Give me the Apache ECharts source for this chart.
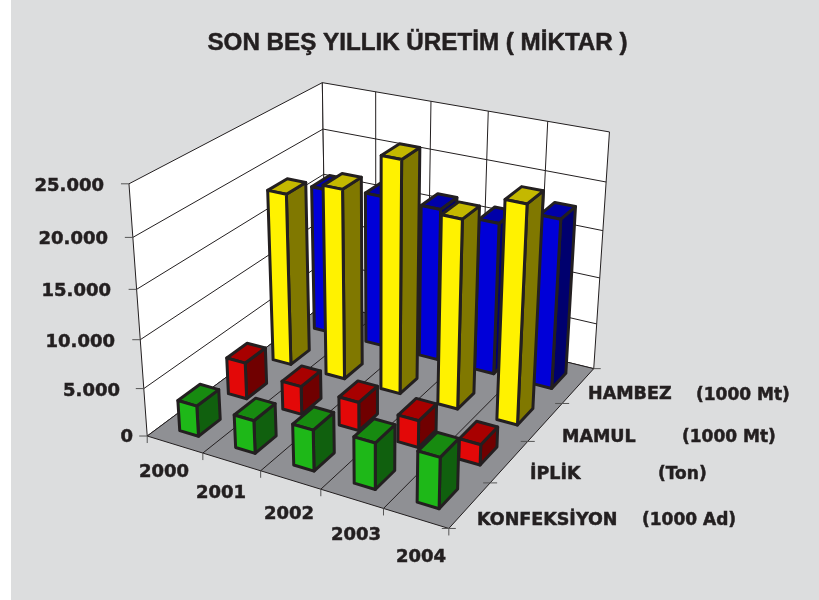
<!DOCTYPE html>
<html><head><meta charset="utf-8">
<style>html,body{margin:0;padding:0;background:#fff}#c{width:819px;height:600px}</style>
<script src="https://cdn.jsdelivr.net/npm/echarts@6/dist/echarts.min.js"></script>
</head><body><div id="c"></div>
<script>
var years = ['2000','2001','2002','2003','2004'];
var tickLabels = ['0','5.000','10.000','15.000','20.000','25.000'];
var seriesNames = ['KONFEKSİYON','İPLİK','MAMUL','HAMBEZ'];
var seriesUnits = ['(1000 Ad)','(Ton)','(1000 Mt)','(1000 Mt)'];
var konfeksiyon = [3200, 3400, 4200, 4700, 5100];
var iplik = [3900, 3000, 3000, 2800, 2100];
var mamul = [18400, 20100, 24200, 19600, 22300];
var hambez = [16000, 16500, 16400, 16200, 17900];
var valueMax = 25000, valueStep = 5000;

var calib = [
  [0,0,0,147.7,436],[1,0,0,449,528.3],[1,1,0,594,369],[0,1,0,325,303],
  [0,0,1,128.3,184],[0,1,1,323.3,82.7],[1,1,1,609,131.7]
];
function solve(A,b){var n=b.length,i,j,k;for(i=0;i<n;i++){var p=i;for(j=i+1;j<n;j++)if(Math.abs(A[j][i])>Math.abs(A[p][i]))p=j;
  var t=A[i];A[i]=A[p];A[p]=t;t=b[i];b[i]=b[p];b[p]=t;
  for(j=i+1;j<n;j++){var f=A[j][i]/A[i][i];for(k=i;k<n;k++)A[j][k]-=f*A[i][k];b[j]-=f*b[i];}}
  var x=[];for(i=n-1;i>=0;i--){var s=b[i];for(k=i+1;k<n;k++)s-=A[i][k]*x[k];x[i]=s/A[i][i];}return x;}
var M=(function(){var R=[],r=[];calib.forEach(function(c){var u=c[0],v=c[1],w=c[2],x=c[3]/500,y=c[4]/500;
  R.push([u,v,w,1,0,0,0,0,-x*u,-x*v,-x*w]);r.push(x);R.push([0,0,0,0,u,v,w,1,-y*u,-y*v,-y*w]);r.push(y);});
  var A=[],b=[];for(var i=0;i<11;i++){A[i]=[];b[i]=0;for(var j=0;j<11;j++){var s=0;for(var k=0;k<R.length;k++)s+=R[k][i]*R[k][j];A[i][j]=s;}
  for(var k2=0;k2<R.length;k2++)b[i]+=R[k2][i]*r[k2];}return solve(A,b);})();
function P(u,v,w){var d=M[8]*u+M[9]*v+M[10]*w+1;return [500*(M[0]*u+M[1]*v+M[2]*w+M[3])/d,500*(M[4]*u+M[5]*v+M[6]*w+M[7])/d];}

var INK='#231f20';
var palette=[
 {front:'#1eb818',top:'#178a10',side:'#10600e'},
 {front:'#e30808',top:'#a80000',side:'#700000'},
 {front:'#fff200',top:'#c4b800',side:'#807800'},
 {front:'#0000d8',top:'#0000a8',side:'#00006e'}
];
var barFrac=0.34, depthFrac=0.44;
function poly(pts,fill){return {type:'polygon',shape:{points:pts},style:{fill:fill,stroke:INK,lineWidth:3,lineJoin:'round'}};}
function line(a,b,w,c){return {type:'line',shape:{x1:a[0],y1:a[1],x2:b[0],y2:b[1]},style:{stroke:c||INK,lineWidth:w||1,fill:null}};}
function txt(x,y,s,font,align){return {type:'text',x:x,y:y+1.5,style:{text:s,font:font,fill:INK,textAlign:align||'left',textVerticalAlign:'middle',stroke:INK,lineWidth:0.5}};}

function barSeries(name,idx,data){
  return {type:'custom',name:name,coordinateSystem:'cartesian2d',clip:false,silent:true,
    data:data.map(function(v,i){return [i,v];}),encode:{x:0,y:1},
    renderItem:function(params,api){
      var W=api.getWidth(),H=api.getHeight();
      var c=api.coord([api.value(0),api.value(1)]);
      var uc=c[0]/W,h=1-c[1]/H;
      var du=api.size([1,0])[0]/W*barFrac/2;
      var vc=(idx+.5)/seriesNames.length,dv=depthFrac/seriesNames.length/2;
      var u0=uc-du,u1=uc+du,v0=vc-dv,v1=vc+dv,col=palette[idx];
      return {type:'group',children:[
        poly([P(u1,v0,0),P(u1,v1,0),P(u1,v1,h),P(u1,v0,h)],col.side),
        poly([P(u0,v0,h),P(u1,v0,h),P(u1,v1,h),P(u0,v1,h)],col.top),
        poly([P(u0,v0,0),P(u1,v0,0),P(u1,v0,h),P(u0,v0,h)],col.front)
      ]};
    }};
}
var frameSeries={type:'custom',name:'frame',coordinateSystem:'none',silent:true,data:[[0]],z:1,
  renderItem:function(params,api){
    var ch=[],nC=years.length,nS=seriesNames.length,nT=tickLabels.length-1,i;
    ch.push({type:'rect',shape:{x:11,y:0,width:808,height:600},style:{fill:'#dcddde'}});
    ch.push({type:'polygon',shape:{points:[P(0,0,0),P(0,1,0),P(0,1,1),P(0,0,1)]},style:{fill:'#fff',stroke:INK,lineWidth:1}});
    ch.push({type:'polygon',shape:{points:[P(0,1,0),P(1,1,0),P(1,1,1),P(0,1,1)]},style:{fill:'#fff',stroke:INK,lineWidth:1}});
    for(i=1;i<nT;i++){var w=i/nT;ch.push(line(P(0,0,w),P(0,1,w)));ch.push(line(P(0,1,w),P(1,1,w)));}
    for(i=1;i<nC;i++){ch.push(line(P(i/nC,1,0),P(i/nC,1,1)));}
    ch.push({type:'polygon',shape:{points:[P(0,0,0),P(1,0,0),P(1,1,0),P(0,1,0)]},style:{fill:'#8f9094',stroke:INK,lineWidth:1}});
    for(i=1;i<nC;i++){ch.push(line(P(i/nC,0,0),P(i/nC,1,0)));}
    var bigFont='bold 18px "DejaVu Sans"';
    var valEnd=[133,120,115,111,108,104],valY=[436,390,341,290,238,185];
    for(i=0;i<=nT;i++){var p=P(0,0,i/nT);ch.push(line([p[0]-8,p[1]],p,1,'#555'));ch.push(txt(valEnd[i],valY[i],tickLabels[i],bigFont,'right'));}
    for(i=0;i<=nC;i++){var q=P(i/nC,0,0);ch.push(line(q,[q[0],q[1]+7],1,'#555'));}
    var yPos=[[164,471],[221,492],[289,513],[356,534],[421,556]];
    years.forEach(function(y,k){ch.push(txt(yPos[k][0],yPos[k][1],y,bigFont,'center'));});
    for(i=0;i<=nS;i++){var r=P(1,i/nS,0);ch.push(line([r[0]-(i===nS?0:7),r[1]],[r[0]+7,r[1]],1,'#555'));}
    var nameFont='bold 17.5px "DejaVu Sans"',unitFont='bold 17px "DejaVu Sans"';
    var nPos=[[477,519],[530,473],[562,436],[588,393]];
    var uPos=[[642,519],[658,473],[682,436],[696,394]];
    seriesNames.forEach(function(n,k){ch.push(txt(nPos[k][0],nPos[k][1],n,nameFont));ch.push(txt(uPos[k][0],uPos[k][1],seriesUnits[k],unitFont));});
    ch.push(txt(417.5,42,'SON BEŞ YILLIK ÜRETİM ( MİKTAR )','bold 24.2px "Liberation Sans"','center'));
    return {type:'group',children:ch};
  }};
var chart=echarts.init(document.getElementById('c'),null,{renderer:'canvas'});
chart.setOption({animation:false,backgroundColor:'#fff',
  grid:{left:0,right:0,top:0,bottom:0},
  xAxis:{type:'category',data:years,show:false},
  yAxis:{type:'value',min:0,max:valueMax,interval:valueStep,show:false},
  series:[frameSeries,barSeries('HAMBEZ',3,hambez),barSeries('MAMUL',2,mamul),barSeries('İPLİK',1,iplik),barSeries('KONFEKSİYON',0,konfeksiyon)]
});
</script></body></html>
